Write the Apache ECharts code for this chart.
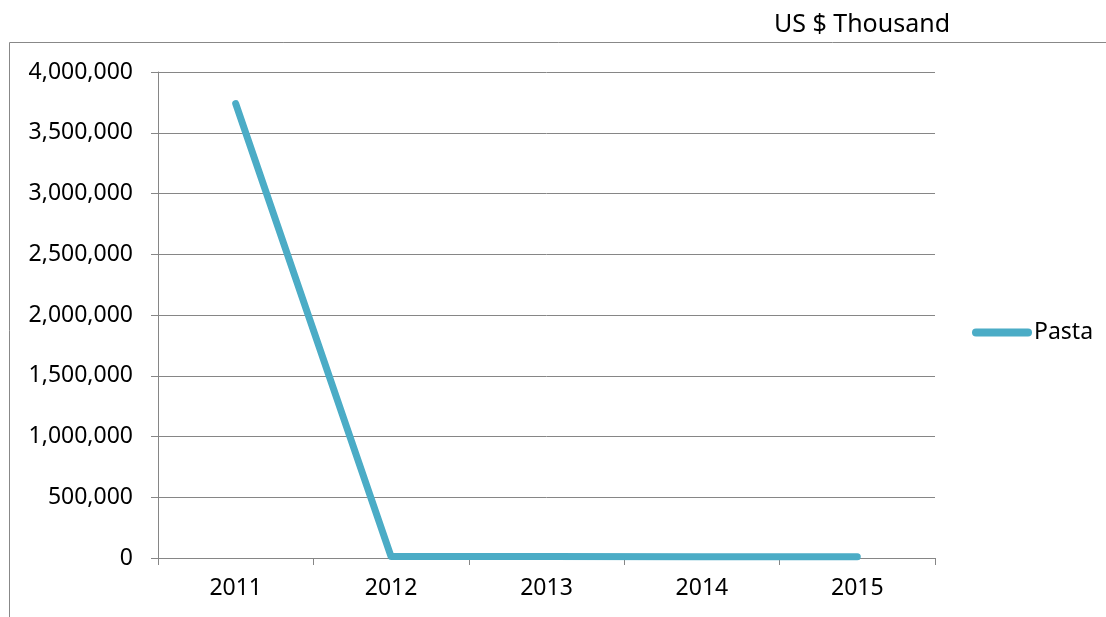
<!DOCTYPE html>
<html>
<head>
<meta charset="utf-8">
<script src="https://cdn.jsdelivr.net/npm/echarts@6/dist/echarts.min.js"></script>
<style>
  html, body { margin: 0; padding: 0; background: #fff; }
  #chart { width: 1106px; height: 617px; }
</style>
</head>
<body>
<div id="chart"></div>
<script>
var years = ['2011', '2012', '2013', '2014', '2015'];
var pasta = [3740000, 12000, 12000, 10000, 10000];
var yTicks = [0, 500000, 1000000, 1500000, 2000000, 2500000, 3000000, 3500000, 4000000];

var myChart = echarts.init(document.getElementById('chart'));
var font = 'Noto Sans';

var option = {
    animation: false,
    backgroundColor: '#fff',
    title: {
        text: 'US $ Thousand',
        right: 151,
        top: 7,
        textStyle: { fontFamily: font, fontSize: 25, fontWeight: 'normal', color: '#000' }
    },
    graphic: [
        {
            type: 'rect',
            shape: { x: 9.5, y: 42.5, width: 1200, height: 700 },
            style: { fill: 'none', stroke: '#888', lineWidth: 1 },
            silent: true
        }
    ],
    legend: {
        left: 967,
        top: 316,
        itemWidth: 60,
        itemHeight: 8,
        itemGap: 10,
        icon: 'path://M4,0 H56 A4,4 0 0 1 56,8 H4 A4,4 0 0 1 4,0 Z',
        textStyle: { fontFamily: font, fontSize: 23, color: '#000', padding: [0, 0, 0, -3] },
        data: ['Pasta']
    },
    grid: {
        left: 158,
        right: 171,
        top: 72,
        bottom: 59
    },
    xAxis: {
        type: 'category',
        data: years,
        boundaryGap: true,
        axisLine: { lineStyle: { color: '#868686', width: 1 } },
        axisTick: { show: true, length: 7, lineStyle: { color: '#868686' } },
        axisLabel: { fontFamily: font, fontSize: 23, color: '#000', margin: 19 }
    },
    yAxis: {
        type: 'value',
        min: yTicks[0],
        max: yTicks[yTicks.length - 1],
        interval: 500000,
        axisLine: { show: true, lineStyle: { color: '#868686', width: 1 } },
        axisTick: { show: true, length: 7, lineStyle: { color: '#868686' } },
        splitLine: { lineStyle: { color: '#868686', width: 1 } },
        axisLabel: {
            fontFamily: font, fontSize: 23, color: '#000', margin: 25,
            formatter: function (v) { return v.toLocaleString('en-US'); }
        }
    },
    series: [
        {
            name: 'Pasta',
            type: 'line',
            data: pasta,
            color: '#4BACC6',
            symbol: 'none',
            showSymbol: false,
            lineStyle: { width: 7, cap: 'round', join: 'round', color: '#4BACC6' }
        }
    ]
};

myChart.setOption(option);
</script>
</body>
</html>
